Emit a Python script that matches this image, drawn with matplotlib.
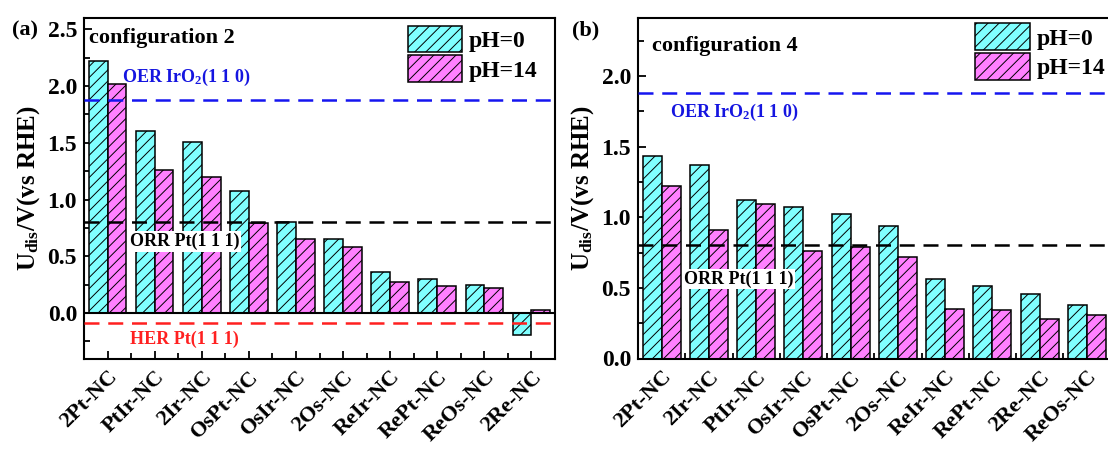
import matplotlib
matplotlib.use("Agg")
import matplotlib.pyplot as plt
from matplotlib.patches import Patch
from matplotlib.ticker import MultipleLocator, FixedLocator, FormatStrFormatter
import numpy as np

# ---- data -------------------------------------------------------------
labels_a = ["2Pt-NC", "PtIr-NC", "2Ir-NC", "OsPt-NC", "OsIr-NC",
            "2Os-NC", "ReIr-NC", "RePt-NC", "ReOs-NC", "2Re-NC"]
ph0_a = [2.22, 1.60, 1.51, 1.08, 0.80, 0.65, 0.36, 0.30, 0.25, -0.19]
ph14_a = [2.02, 1.26, 1.20, 0.79, 0.65, 0.58, 0.27, 0.24, 0.22, 0.03]

labels_b = ["2Pt-NC", "2Ir-NC", "PtIr-NC", "OsIr-NC", "OsPt-NC",
            "2Os-NC", "ReIr-NC", "RePt-NC", "2Re-NC", "ReOs-NC"]
ph0_b = [1.43, 1.37, 1.12, 1.07, 1.02, 0.94, 0.56, 0.51, 0.46, 0.38]
ph14_b = [1.22, 0.91, 1.09, 0.76, 0.79, 0.72, 0.35, 0.34, 0.28, 0.31]

oer_ref = 1.88
orr_ref = 0.80
her_ref = -0.09

series_names = ["pH=0", "pH=14"]

# ---- style ------------------------------------------------------------
plt.rcParams.update({
    "font.family": "serif",
    "font.serif": ["Liberation Serif", "DejaVu Serif"],
    "font.weight": "bold",
    "mathtext.fontset": "custom",
    "mathtext.rm": "Liberation Serif:bold",
    "mathtext.bf": "Liberation Serif:bold",
    "mathtext.it": "Liberation Serif:bold:italic",
    "hatch.linewidth": 0.7,
    "axes.linewidth": 1.5,
})

CYAN = "#80FFFF"
MAGENTA = "#FF80FF"
W = 0.4

fig = plt.figure(figsize=(11.08, 4.5), dpi=100)
ax_a = fig.add_axes([84 / 1108, 1 - 358.5 / 450, (555 - 84) / 1108, (358.5 - 18) / 450])
ax_b = fig.add_axes([638 / 1108, 1 - 358.5 / 450, (1110.5 - 638) / 1108, (358.5 - 18) / 450])


def draw_bars(ax, labels, v0, v14):
    x = np.arange(1, len(labels) + 1)
    ax.bar(x - W / 2, v0, W, color=CYAN, edgecolor="black", linewidth=1.1,
           hatch="///", zorder=2)
    ax.bar(x + W / 2, v14, W, color=MAGENTA, edgecolor="black", linewidth=1.1,
           hatch="///", zorder=2)
    ax.set_xlim(0.5, len(labels) + 0.5)
    ax.xaxis.set_major_locator(FixedLocator(x))
    ax.xaxis.set_minor_locator(FixedLocator(x[:-1] + 0.5))
    ax.set_xticklabels(labels, rotation=45, ha="right", rotation_mode="anchor",
                       fontsize=16, fontweight="bold")
    ax.yaxis.set_major_locator(MultipleLocator(0.5))
    ax.yaxis.set_minor_locator(MultipleLocator(0.25))
    ax.yaxis.set_major_formatter(FormatStrFormatter("%.1f"))
    ax.tick_params(axis="both", which="both", direction="in", top=False, right=False,
                   width=1.3)
    ax.tick_params(axis="y", which="major", length=6, labelsize=17, pad=5)
    ax.tick_params(axis="y", which="minor", length=4)
    ax.tick_params(axis="x", which="major", length=6, pad=6)
    ax.tick_params(axis="x", which="minor", length=4)
    for t in ax.get_yticklabels():
        t.set_fontweight("bold")
    ax.set_ylabel(r"U$_{\rm dis}$/V(vs RHE)", fontsize=18, fontweight="bold", labelpad=4)
    handles = [Patch(facecolor=CYAN, edgecolor="black", hatch="///", linewidth=1.1),
               Patch(facecolor=MAGENTA, edgecolor="black", hatch="///", linewidth=1.1)]
    return handles


def ref_line(ax, y, color):
    ax.axhline(y, color=color, linewidth=1.8, dashes=(6, 3.5), zorder=3)


LEG = dict(loc="upper left", frameon=False, handlelength=2.3, handleheight=1.36,
           labelspacing=0.12, handletextpad=0.28, borderpad=0, borderaxespad=0,
           prop={"weight": "bold", "size": 17})

# ---- panel (a) --------------------------------------------------------
h = draw_bars(ax_a, labels_a, ph0_a, ph14_a)
ax_a.set_ylim(-0.4, 2.6)
ax_a.axhline(0, color="black", linewidth=1.5, zorder=3)
ref_line(ax_a, oer_ref, "#1515F0")
ref_line(ax_a, orr_ref, "black")
ref_line(ax_a, her_ref, "#FF2020")
ax_a.text(1.31, 2.08, r"OER IrO$_2$(1 1 0)", color="#1515E0", fontsize=13,
          fontweight="bold", va="center", ha="left", zorder=4)
ax_a.text(1.48, 0.63, "ORR Pt(1 1 1)", color="black", fontsize=13,
          fontweight="bold", va="center", ha="left", zorder=5,
          bbox=dict(facecolor="white", edgecolor="none", pad=1.0))
ax_a.text(1.48, -0.235, "HER Pt(1 1 1)", color="#FF2020", fontsize=13,
          fontweight="bold", va="center", ha="left", zorder=4)
ax_a.text(0.01, 0.942, "configuration 2", transform=ax_a.transAxes, fontsize=16,
          fontweight="bold", va="center", ha="left")
ax_a.legend(h, series_names, bbox_to_anchor=(0.688, 0.977), **LEG)

# ---- panel (b) --------------------------------------------------------
h = draw_bars(ax_b, labels_b, ph0_b, ph14_b)
ax_b.set_ylim(0, 2.41)
ref_line(ax_b, oer_ref, "#1515F0")
ref_line(ax_b, orr_ref, "black")
ax_b.text(1.18, 1.74, r"OER IrO$_2$(1 1 0)", color="#1515E0", fontsize=13,
          fontweight="bold", va="center", ha="left", zorder=4)
ax_b.text(1.47, 0.56, "ORR Pt(1 1 1)", color="black", fontsize=13,
          fontweight="bold", va="center", ha="left", zorder=5,
          bbox=dict(facecolor="white", edgecolor="none", pad=1.0))
ax_b.text(0.03, 0.919, "configuration 4", transform=ax_b.transAxes, fontsize=16,
          fontweight="bold", va="center", ha="left")
ax_b.legend(h, series_names, bbox_to_anchor=(0.714, 0.984), **LEG)

# panel tags
fig.text(12 / 1108, 1 - 30 / 450, "(a)", fontsize=16, fontweight="bold", va="center", ha="left")
fig.text(572 / 1108, 1 - 30 / 450, "(b)", fontsize=16, fontweight="bold", va="center", ha="left")

fig.savefig("out.png", dpi=100)
